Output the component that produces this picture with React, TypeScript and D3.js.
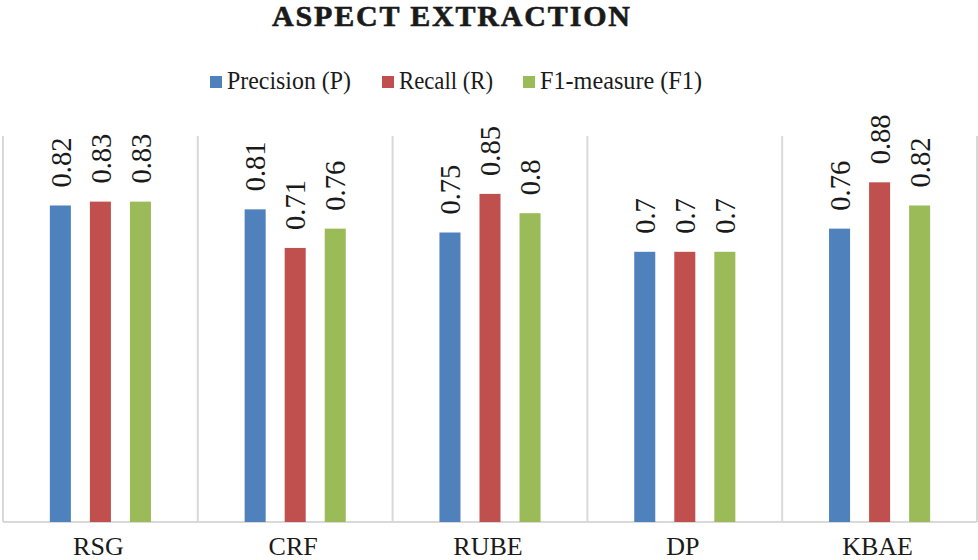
import { useEffect, useRef } from 'react';
import * as d3 from 'd3';

const categories = ['RSG', 'CRF', 'RUBE', 'DP', 'KBAE'];
const seriesNames = ['Precision (P)', 'Recall (R)', 'F1-measure (F1)'];
const precision = [0.82, 0.81, 0.75, 0.7, 0.76];
const recall = [0.83, 0.71, 0.85, 0.7, 0.88];
const f1 = [0.83, 0.76, 0.8, 0.7, 0.82];
const colors = ['#4F81BD', '#C0504D', '#9BBB59'];

export default function App() {
  const ref = useRef<SVGSVGElement>(null);

  useEffect(() => {
    if (!ref.current) return;
    const svg = d3.select(ref.current);
    svg.selectAll('*').remove();

    const plot = { left: 3, right: 977, top: 136, bottom: 522 };
    const series = [precision, recall, f1];
    const serif = '"Liberation Serif", serif';

    const x = d3.scaleBand<string>()
      .domain(categories)
      .range([plot.left, plot.right])
      .padding(0);

    const x1 = d3.scaleBand<string>()
      .domain(seriesNames)
      .range([0, x.bandwidth()])
      .paddingInner(0.475)
      .paddingOuter(1.17);

    const y = d3.scaleLinear().domain([0, 1]).range([plot.bottom, plot.top]);

    // Title
    svg.append('text')
      .attr('x', 451)
      .attr('y', 26)
      .attr('text-anchor', 'middle')
      .attr('font-family', serif)
      .attr('font-weight', 'bold')
      .attr('font-size', 30)
      .attr('fill', '#1a1a1a')
      .attr('stroke', '#1a1a1a')
      .attr('stroke-width', 0.6)
      .attr('textLength', 358)
      .attr('lengthAdjust', 'spacing')
      .text('ASPECT EXTRACTION');

    // Legend
    const legendX = [210, 382, 523];
    const legendW = [124, 94, 162];
    seriesNames.forEach((name, i) => {
      svg.append('rect')
        .attr('x', legendX[i])
        .attr('y', 76)
        .attr('width', 12)
        .attr('height', 12)
        .attr('fill', colors[i]);
      svg.append('text')
        .attr('x', legendX[i] + 17)
        .attr('y', 89)
        .attr('font-family', serif)
        .attr('font-size', 25)
        .attr('fill', '#1a1a1a')
        .attr('textLength', legendW[i])
        .attr('lengthAdjust', 'spacingAndGlyphs')
        .text(name);
    });

    // Separators
    const edges = [...categories.map(c => x(c)!), plot.right];
    svg.append('g')
      .selectAll('line')
      .data(edges)
      .enter()
      .append('line')
      .attr('x1', d => d)
      .attr('x2', d => d)
      .attr('y1', plot.top)
      .attr('y2', plot.bottom)
      .attr('stroke', '#D9D9D9')
      .attr('stroke-width', 2);

    svg.append('line')
      .attr('x1', plot.left)
      .attr('x2', plot.right)
      .attr('y1', plot.bottom)
      .attr('y2', plot.bottom)
      .attr('stroke', '#D9D9D9')
      .attr('stroke-width', 2);

    // Bars and labels
    categories.forEach((cat, ci) => {
      const g = svg.append('g').attr('transform', `translate(${x(cat)},0)`);
      seriesNames.forEach((name, si) => {
        const v = series[si][ci];
        const bx = x1(name)!;
        g.append('rect')
          .attr('x', bx)
          .attr('y', y(v))
          .attr('width', x1.bandwidth())
          .attr('height', plot.bottom - y(v))
          .attr('fill', colors[si]);
        const cx = bx + x1.bandwidth() / 2;
        const ty = y(v) - 18;
        g.append('text')
          .attr('transform', `translate(${cx},${ty}) rotate(-90) scale(0.95,1)`)
          .attr('dy', '0.34em')
          .attr('font-family', serif)
          .attr('font-size', 30)
          .attr('fill', '#1a1a1a')
          .text(String(v));
      });
    });

    // Category labels
    svg.append('g')
      .selectAll('text')
      .data(categories)
      .enter()
      .append('text')
      .attr('x', d => x(d)! + x.bandwidth() / 2 - 2)
      .attr('y', 555)
      .attr('text-anchor', 'middle')
      .attr('font-family', serif)
      .attr('font-size', 26)
      .attr('fill', '#1a1a1a')
      .text(d => d);
  }, []);

  return (
    <div style={{ position: 'fixed', left: 0, top: 0, background: '#fff' }}>
      <svg ref={ref} width={978} height={560} style={{ display: 'block' }} />
    </div>
  );
}
